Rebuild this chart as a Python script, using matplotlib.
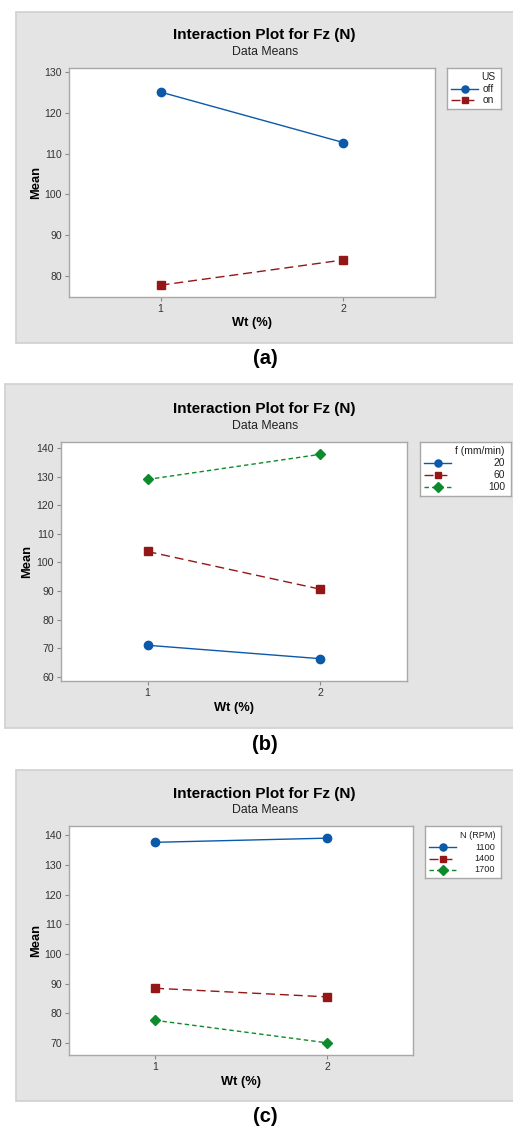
import matplotlib
matplotlib.use('Agg')
import matplotlib.pyplot as plt
from matplotlib.patches import Rectangle

plt.rcParams['font.family'] = ['Liberation Sans', 'DejaVu Sans']

W, H = 513, 1126

# data
wt = [1, 2]
us_levels = ['off', 'on']
fz_us = [[125.1, 112.7], [77.7, 83.9]]
f_levels = ['20', '60', '100']
fz_f = [[71.0, 66.3], [103.8, 90.6], [129.0, 137.8]]
n_levels = ['1100', '1400', '1700']
fz_n = [[137.6, 139.0], [88.4, 85.5], [77.6, 70.0]]

colors = ['#0b59a9', '#951616', '#0d8a2b']
styles = ['-', (0, (6.5, 3.5)), (0, (3.2, 2.2))]
markers = ['o', 's', 'D']
msizes = [6, 5.6, 5.4]


def box(x0, y0, x1, y1):
    # pixel box (top-left origin) -> figure fraction rect
    return [x0 / W, 1 - y1 / H, (x1 - x0) / W, (y1 - y0) / H]


panels = [
    dict(bg=(16, 12, 520, 343), ax=(69, 68, 435, 297), ylim=(74.8, 131.0), yticks=range(80, 131, 10),
         leg=(447, 68, 501, 109), title_y=35, sub_y=52, mean_x=36, wt_y=323, lab_y=358, letter='(a)',
         legtitle='US', levels=us_levels, data=fz_us, legfs=7.4, step=11, right=False),
    dict(bg=(5, 384, 520, 728), ax=(61, 442, 407, 681), ylim=(58.5, 142.1), yticks=range(60, 141, 10),
         leg=(420, 442, 511, 496), title_y=409, sub_y=426, mean_x=27, wt_y=708, lab_y=744, letter='(b)',
         legtitle='f (mm/min)', levels=f_levels, data=fz_f, legfs=7.4, step=12.2, right=True),
    dict(bg=(16, 770, 520, 1101), ax=(69, 826, 413, 1055), ylim=(65.9, 143.1), yticks=range(70, 141, 10),
         leg=(425, 826, 501, 878), title_y=794, sub_y=810, mean_x=36, wt_y=1082, lab_y=1116, letter='(c)',
         legtitle='N (RPM)', levels=n_levels, data=fz_n, legfs=6.6, step=11.5, right=True),
]

fig = plt.figure(figsize=(W / 100, H / 100), dpi=100)

for p in panels:
    bx = p['bg']
    fig.patches.append(Rectangle((bx[0] / W, 1 - bx[3] / H), (bx[2] - bx[0]) / W, (bx[3] - bx[1]) / H,
                                 transform=fig.transFigure, facecolor='#e4e4e4', edgecolor='#d0d0d0',
                                 linewidth=1.2, zorder=-10))

    ax = fig.add_axes(box(*p['ax']))
    ax.set_facecolor('white')
    for i, vals in enumerate(p['data']):
        ax.plot(wt, vals, color=colors[i], linestyle=styles[i], marker=markers[i], markersize=msizes[i],
                linewidth=1.0, clip_on=False)
    ax.set_xlim(0.5, 2.5)
    ax.set_ylim(*p['ylim'])
    ax.set_xticks(wt)
    ax.set_yticks(list(p['yticks']))
    for s in ax.spines.values():
        s.set_color('#a8a8a8')
        s.set_linewidth(1.0)
    ax.tick_params(direction='out', length=3, width=0.8, color='#8a8a8a', labelcolor='#333333',
                   labelsize=7.6, pad=2)

    xc = (p['ax'][0] + p['ax'][2]) / 2
    yc = (p['ax'][1] + p['ax'][3]) / 2
    fig.text(264.5 / W, 1 - p['title_y'] / H, 'Interaction Plot for Fz (N)', ha='center', va='center',
             fontsize=11, fontweight='bold')
    fig.text(265 / W, 1 - p['sub_y'] / H, 'Data Means', ha='center', va='center', fontsize=8.8,
             color='#222222')
    fig.text(p['mean_x'] / W, 1 - yc / H, 'Mean', ha='center', va='center', rotation=90,
             fontsize=9.3, fontweight='bold')
    fig.text(xc / W, 1 - p['wt_y'] / H, 'Wt (%)', ha='center', va='center', fontsize=9.3, fontweight='bold')
    fig.text(265 / W, 1 - p['lab_y'] / H, p['letter'], ha='center', va='center', fontsize=14.5,
             fontweight='bold')

    # legend box
    lx0, ly0, lx1, ly1 = p['leg']
    lw_, lh_ = lx1 - lx0, ly1 - ly0
    lg = fig.add_axes(box(*p['leg']))
    lg.set_xlim(0, lw_)
    lg.set_ylim(lh_, 0)
    lg.set_xticks([])
    lg.set_yticks([])
    for s in lg.spines.values():
        s.set_color('#a8a8a8')
        s.set_linewidth(1.0)
    tx = lw_ - 6
    lg.text(tx, 9, p['legtitle'], ha='right', va='center', fontsize=p['legfs'], color='#222222')
    for i, name in enumerate(p['levels']):
        yy = 21 + p['step'] * i
        lg.plot([4, 31], [yy, yy], color=colors[i], linestyle=styles[i], linewidth=1.0)
        lg.plot([18], [yy], color=colors[i], marker=markers[i], markersize=msizes[i] * 0.85,
                linestyle='none')
        if p['right']:
            lg.text(tx, yy, name, ha='right', va='center', fontsize=p['legfs'], color='#222222')
        else:
            lg.text(36, yy, name, ha='left', va='center', fontsize=p['legfs'], color='#222222')

fig.savefig('out.png', dpi=100)
